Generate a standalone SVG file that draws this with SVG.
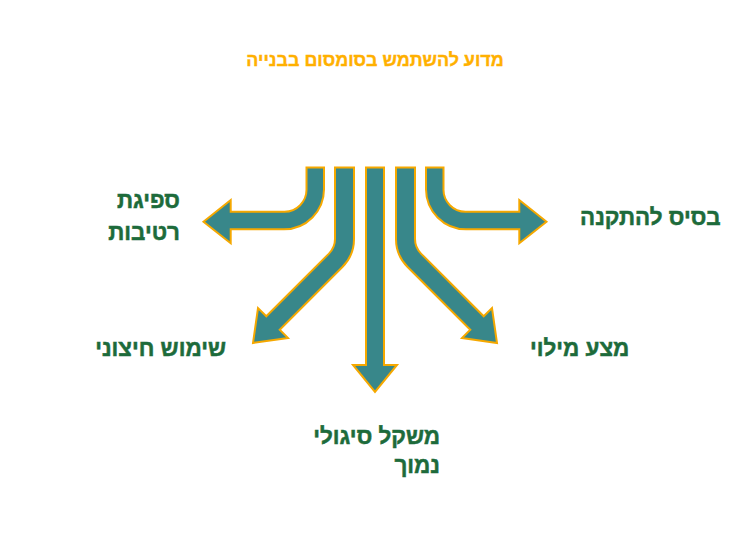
<svg xmlns="http://www.w3.org/2000/svg" width="750" height="540" viewBox="0 0 750 540">
<style>
.arrow{fill:#38878A;stroke:#F5A800;stroke-width:2;stroke-linejoin:miter}
.lbl{font-family:"Liberation Sans","Noto Sans",sans-serif;font-weight:bold;font-size:22.4px;fill:#1D6B3B;stroke:#1D6B3B;stroke-width:0.5}
.title{font-family:"Liberation Sans","Noto Sans",sans-serif;font-weight:bold;font-size:17.9px;fill:#FFB000;stroke:#FFB000;stroke-width:0.4}
</style>
<rect width="750" height="540" fill="#FFFFFF"/>
<text id="title" class="title" x="375" y="66" text-anchor="middle">מדוע להשתמש בסומסום בבנייה</text>
<g id="connectors">
<path id="arrow-left" class="arrow" d="M306.5,167.5 H324 V189 A40,40 0 0 1 284,229.3 H230.7 V243.3 L203.5,221.7 L230.7,200 V211.7 H284 A22,22 0 0 0 306.5,189 Z"/>
<path id="arrow-left-diag" class="arrow" d="M335,167.5 H354 V239 A39.5,39.5 0 0 1 342.4,267 L279.7,329.7 L288,338 L253,343 L258,308 L266.3,316.3 L329,253.6 A20.5,20.5 0 0 0 335,239.1 Z"/>
<path id="arrow-down" class="arrow" d="M366,167.5 H384 V365 H397 L375,392 L353,365 H366 Z"/>
<path id="arrow-right-diag" class="arrow" d="M415,167.5 H396 V239 A39.5,39.5 0 0 0 407.6,267 L470.3,329.7 L462,338 L497,343 L492,308 L483.7,316.3 L421,253.6 A20.5,20.5 0 0 1 415,239.1 Z"/>
<path id="arrow-right" class="arrow" d="M443.5,167.5 H426 V189 A40,40 0 0 0 466,229.3 H519.3 V243.3 L546.5,221.7 L519.3,200 V211.7 H466 A22,22 0 0 1 443.5,189 Z"/>
</g>
<g id="node-moisture">
<text class="lbl" x="180" y="208" text-anchor="end">ספיגת</text>
<text class="lbl" x="180" y="240" text-anchor="end">רטיבות</text>
</g>
<g id="node-base">
<text class="lbl" x="580" y="225" text-anchor="start">בסיס להתקנה</text>
</g>
<g id="node-external">
<text class="lbl" x="226" y="356" text-anchor="end">שימוש חיצוני</text>
</g>
<g id="node-fill">
<text class="lbl" x="530" y="356" text-anchor="start">מצע מילוי</text>
</g>
<g id="node-weight">
<text class="lbl" x="440" y="444" text-anchor="end">משקל סיגולי</text>
<text class="lbl" x="440" y="473" text-anchor="end">נמוך</text>
</g>
</svg>
